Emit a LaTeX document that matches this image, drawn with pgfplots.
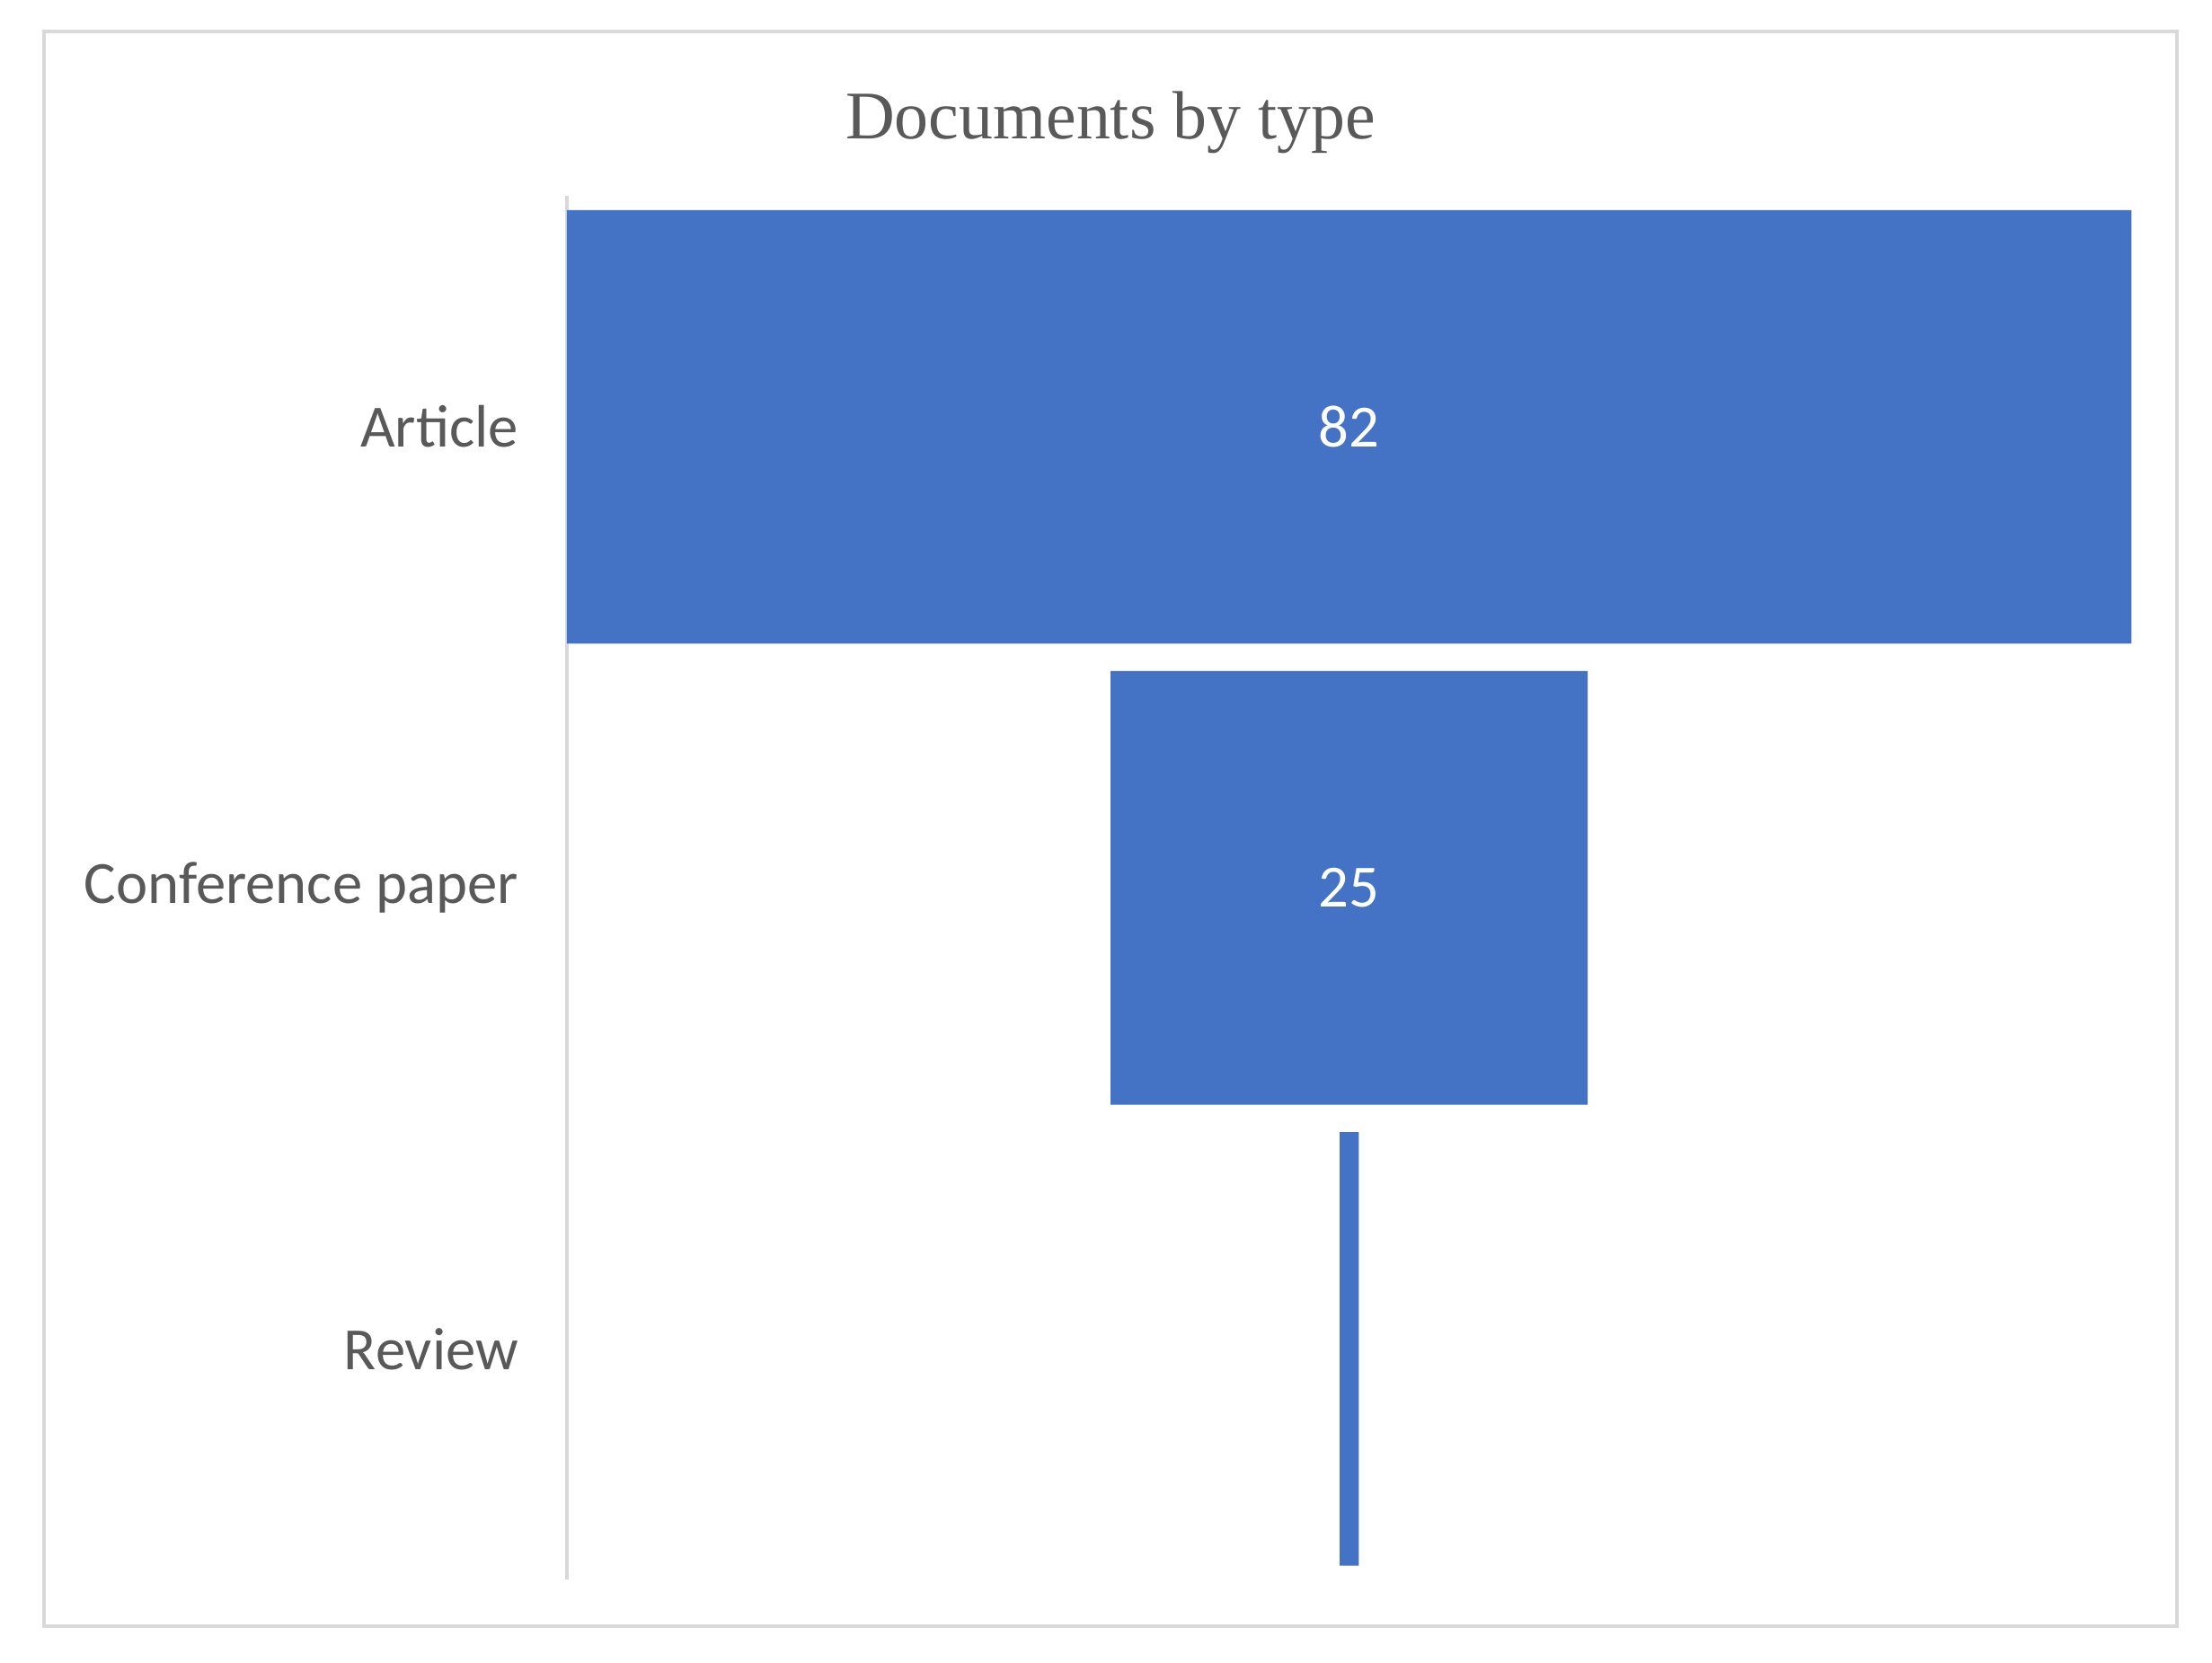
\documentclass[border=0pt]{standalone}
\usepackage{pgfplots}
\pgfplotsset{compat=1.18}
\usepackage{pgfplotstable}
\usepackage{fontspec}
\setmainfont{Carlito}
\newfontfamily\titlefont{Liberation Serif}

\definecolor{barblue}{HTML}{4472C4}
\definecolor{txtgray}{HTML}{595959}
\definecolor{linegray}{HTML}{D9D9D9}

% 1 px of the reference
\def\px{0.005cm}

% funnel: off = invisible left part, v = document count, lab = shown label
\pgfplotstableread{
y off v lab
0 0 82 82
1 28.5 25 25
2 40.5 1 {}
}\docs

\begin{document}
\begin{tikzpicture}
\fill[white] (0,0) rectangle (2462*\px,1851*\px);
\draw[linegray, line width=0.6pt] (49*\px,41*\px) rectangle (2423*\px,1816*\px);
\node[anchor=base, font=\titlefont\fontsize{10.8}{13}\selectfont, text=txtgray]
  at (1236*\px,1696*\px) {Documents by type};
\begin{axis}[
    at={(631*\px,93*\px)}, anchor=south west,
    scale only axis, width=8.715cm, height=7.705cm,
    xbar stacked, bar width=2.415cm,
    xmin=0, xmax=82, ymin=-0.5, ymax=2.5, y dir=reverse,
    enlargelimits=false,
    axis x line=none, axis y line=left,
    y axis line style={-, draw=linegray, line width=0.6pt},
    ytick={0,1,2},
    yticklabels={Article, Conference paper, Review},
    major tick length=0pt,
    yticklabel style={font=\fontsize{9.5}{11}\selectfont, text=txtgray,
        inner sep=0pt, anchor=east, xshift=-7.5pt},
]
\addplot[draw=none, fill=none] table[x=off, y=y] \docs;
\addplot[draw=none, fill=barblue,
    point meta=explicit symbolic,
    nodes near coords,
    every node near coord/.append style={anchor=center,
        text=white, font=\fontsize{9.5}{11}\selectfont},
    ] table[x=v, y=y, meta=lab] \docs;
\end{axis}
\end{tikzpicture}
\end{document}
